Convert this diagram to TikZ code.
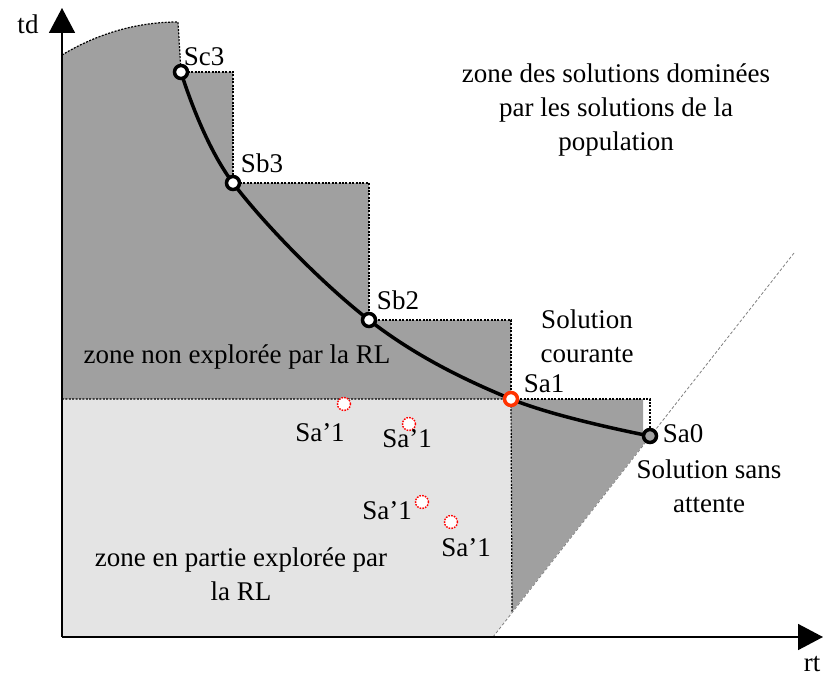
\documentclass[tikz,border=0pt]{standalone}
\usepackage{fontspec}
\setmainfont{Liberation Serif}
\usetikzlibrary{arrows.meta}

\definecolor{darkzone}{RGB}{160,160,160}
\definecolor{lightzone}{RGB}{228,228,228}
\definecolor{currentred}{RGB}{255,51,0}

\tikzset{
  lbl/.style={font=\rmfamily\fontsize{27}{34}\selectfont, align=center, inner sep=0pt},
  sol/.style={circle, draw=black, line width=3.5pt, fill=white, inner sep=0pt, minimum size=13pt},
  neighbour/.style={circle, draw=red, dash pattern=on 1.6pt off 1.2pt, line width=1.4pt, fill=white, inner sep=0pt, minimum size=13pt},
  border/.style={black, dash pattern=on 2pt off 1.4pt, line width=1.2pt},
  axis/.style={line width=1.6pt, -{Triangle[length=25pt,width=26pt]}},
}

\begin{document}
\begin{tikzpicture}[x=1pt, y=-1pt]
        \useasboundingbox (0,0) rectangle (824,679);

        % Solutions on the front
        \coordinate (Sc3) at (181,72);
        \coordinate (Sb3) at (233,183);
        \coordinate (Sb2) at (369,320);
        \coordinate (Sa1) at (511,399);
        \coordinate (Sa0) at (650,436);
        \coordinate (top) at (178,22);
        \coordinate (o) at (62,637);
        \coordinate (diagA) at (493,637);
        \coordinate (diagB) at (794,253);

        % Zones
        \fill[darkzone] (62,55) .. controls (100,32) and (140,22) .. (top) -- (Sc3) -| (Sb3) -| (Sb2) -| (Sa1)
            -| (643,436) -- (Sa0) -- (512,612) -- (Sa1) -- (62,399) -- cycle;
        \fill[lightzone] (62,399) -- (Sa1) -- (512,612) -- (diagA) -- (o) -- cycle;

        % Borders of the zones
        \draw[border] (62,55) .. controls (100,32) and (140,22) .. (top) -- (Sc3);
        \draw[border] (Sc3) -| (Sb3) -| (Sb2) -| (Sa1) -| (Sa0);
        \draw[border] (62,399) -- (Sa1) -- (512,612);
        \draw[gray, densely dashed, line width=0.8pt] (diagA) -- (diagB);

        % Axes
        \draw[axis] (o) -- (62,8);
        \draw[axis] (o) -- (823,637);
        \node[lbl] (td) at (28,24) {td};
        \node[lbl] (rt) at (812,664) {rt};

        % Front
        \draw[line width=3.5pt] plot[smooth, tension=0.6] coordinates {(Sc3) (Sb3) (Sb2) (Sa1) (Sa0)};
        \node[sol] (nSc3) at (Sc3) {};
        \node[sol] (nSb3) at (Sb3) {};
        \node[sol] (nSb2) at (Sb2) {};
        \node[sol, draw=currentred] (nSa1) at (Sa1) {};
        \node[sol, fill=darkzone] (nSa0) at (Sa0) {};
        \node[lbl] (lSc3) at (204,57) {Sc3};
        \node[lbl] (lSb3) at (262,163) {Sb3};
        \node[lbl] (lSb2) at (398,300) {Sb2};
        \node[lbl] (lSa1) at (544,384) {Sa1};
        \node[lbl] (lSa0) at (683,434) {Sa0};

        % Neighbours of Sa1
        \node[neighbour] (v1) at (344,404) {};
        \node[neighbour] (v2) at (409,424) {};
        \node[neighbour] (v3) at (422,502) {};
        \node[neighbour] (v4) at (451,522) {};
        \node[lbl] (lv1) at (320,433) {Sa’1};
        \node[lbl] (lv2) at (407,439) {Sa’1};
        \node[lbl] (lv3) at (387,511) {Sa’1};
        \node[lbl] (lv4) at (466,548) {Sa’1};

        % Zone texts
        \node[lbl] (dom) at (616,110) {zone des solutions dominées\\par les solutions de la\\population};
        \node[lbl] (cur) at (587,336) {Solution\\courante};
        \node[lbl] (wait) at (709,486) {Solution sans\\attente};
        \node[lbl] (unexp) at (237,357) {zone non explorée par la RL};
        \node[lbl] (part) at (241,574) {zone en partie explorée par\\la RL};
\end{tikzpicture}
\end{document}
